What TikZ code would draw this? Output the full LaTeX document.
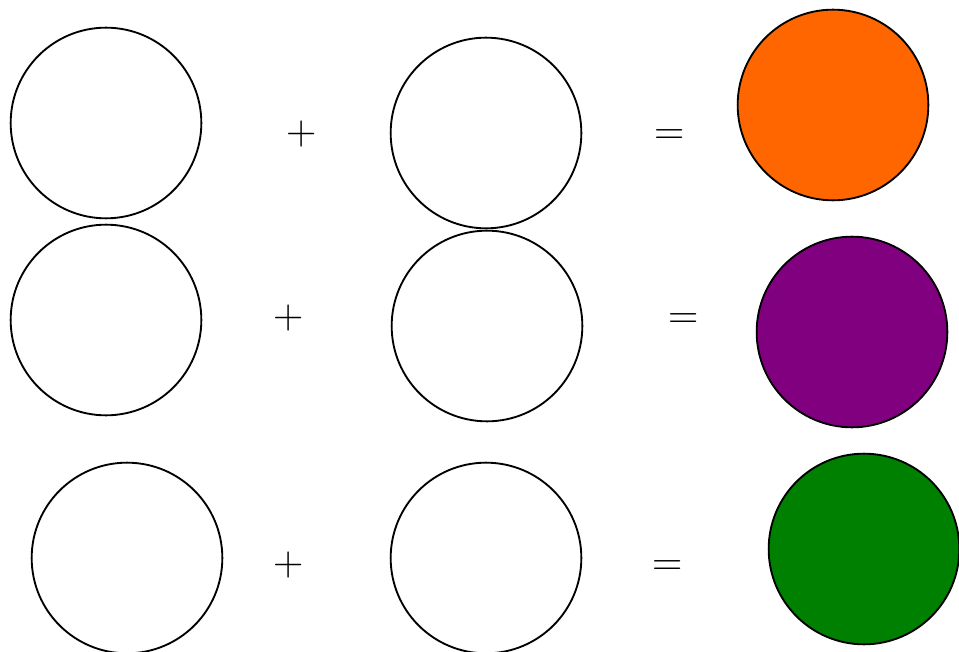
\documentclass[tikz,border=0pt]{standalone}
\begin{document}
\begin{tikzpicture}[x=0.75pt,y=-0.75pt,
  ball/.style={circle,draw=black,line width=1.4pt,minimum size=143pt,inner sep=0pt},
  sym/.style={inner sep=0pt,font=\fontsize{31.5}{36}\selectfont}]
\useasboundingbox (0,0) rectangle (959,652);
\definecolor{cOrange}{HTML}{FF6600}
\definecolor{cPurple}{HTML}{800080}
\definecolor{cGreen}{HTML}{008000}
% row 1
\node[ball] (a1) at (106,123) {};
\node[sym] (p1) at (302,134) {+};
\node[ball] (b1) at (486,133) {};
\node[sym] (e1) at (670,137) {=};
\node[ball,fill=cOrange] (c1) at (833,105) {};
% row 2
\node[ball] (a2) at (106,320) {};
\node[sym] (p2) at (289,318) {+};
\node[ball] (b2) at (487,326) {};
\node[sym] (e2) at (684,321) {=};
\node[ball,fill=cPurple] (c2) at (852,332) {};
% row 3
\node[ball] (a3) at (127,558) {};
\node[sym] (p3) at (289,565) {+};
\node[ball] (b3) at (486,558) {};
\node[sym] (e3) at (668,568) {=};
\node[ball,fill=cGreen] (c3) at (864,549) {};
\end{tikzpicture}
\end{document}
